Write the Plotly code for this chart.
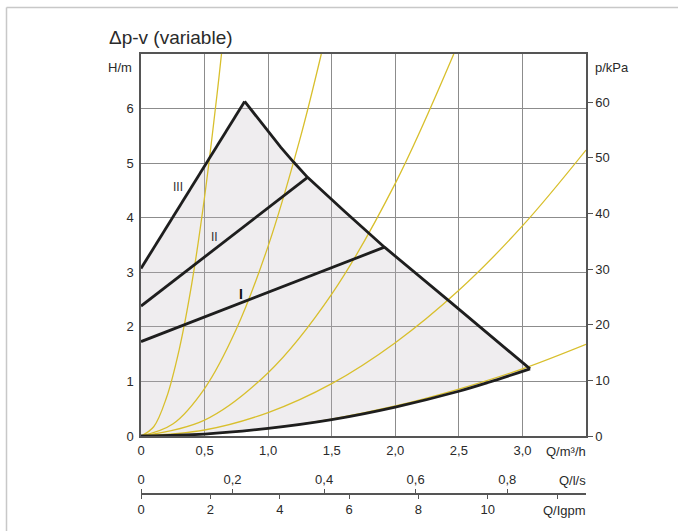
import plotly.graph_objects as go

# ---------------- data ----------------
# bottom axis: flow Q in m3/h
q_ticks = [0, 0.5, 1.0, 1.5, 2.0, 2.5, 3.0]
q_ticklabels = ["0", "0,5", "1,0", "1,5", "2,0", "2,5", "3,0"]
# left axis: head H in m
h_ticks = [0, 1, 2, 3, 4, 5, 6]
h_ticklabels = ["0", "1", "2", "3", "4", "5", "6"]
# right axis: pressure in kPa
kpa_ticks = [0, 10, 20, 30, 40, 50, 60]
kpa_ticklabels = ["0", "10", "20", "30", "40", "50", "60"]
# secondary flow scales
ls_ticks = [0, 0.2, 0.4, 0.6, 0.8]
ls_ticklabels = ["0", "0,2", "0,4", "0,6", "0,8"]
igpm_ticks = [0, 2, 4, 6, 8, 10, 12]
igpm_ticklabels = ["0", "2", "4", "6", "8", "10", ""]

# control lines (black)
line_III_q = [0.0, 0.815]
line_III_h = [3.07, 6.13]
line_II_q = [0.0, 1.31]
line_II_h = [2.38, 4.74]
line_I_q = [0.0, 1.915]
line_I_h = [1.73, 3.46]
# maximum (descending) curve
max_q = [0.815, 1.0, 1.1, 1.2, 1.31, 1.6, 1.915, 2.42, 3.06]
max_h = [6.13, 5.58, 5.29, 5.02, 4.74, 4.12, 3.46, 2.48, 1.23]
# minimum curve (bottom)
min_q = [0.0, 0.5, 1.0, 1.5, 2.0, 2.5, 2.73, 3.06]
min_h = [0.0, 0.035, 0.14, 0.30, 0.53, 0.82, 0.98, 1.23]

# system curves (yellow)
sys1_q = [0.0, 0.1, 0.2, 0.3, 0.4, 0.5, 0.6, 0.633]
sys1_h = [0.0, 0.17, 0.70, 1.58, 2.80, 4.38, 6.30, 7.0]
sys2_q = [0.0, 0.25, 0.5, 0.75, 1.0, 1.25, 1.418]
sys2_h = [0.0, 0.22, 0.87, 1.96, 3.48, 5.44, 7.0]
sys3_q = [0.0, 0.5, 1.0, 1.5, 2.0, 2.46]
sys3_h = [0.0, 0.29, 1.16, 2.60, 4.63, 7.0]
sys4_q = [0.0, 0.5, 1.0, 1.5, 2.0, 2.5, 3.0, 3.5]
sys4_h = [0.0, 0.11, 0.43, 0.96, 1.71, 2.67, 3.85, 5.24]
sys5_q = [0.0, 0.5, 1.0, 1.5, 2.0, 2.5, 3.0, 3.5]
sys5_h = [0.0, 0.034, 0.137, 0.31, 0.55, 0.86, 1.23, 1.68]

# curve labels
curve_names = ["III", "II", "<b>I</b>"]
curve_label_q = [0.29, 0.58, 0.79]
curve_label_h = [4.57, 3.64, 2.61]

# axis ranges
Q_MAX = 3.5
H_MAX = 7.0
KPA_MAX = 68.67
LS_MAX = 0.9722
IGPM_MAX = 12.83

# ---------------- layout geometry (pixels) ----------------
W, HGT = 678, 531
PL, PR, PT, PBOT = 141, 586, 54, 436    # plot frame
PAPER_B = 520                            # bottom of paper area
PAPER_H = PAPER_B - PT
PAPER_W = PR - PL
AUX_Y = 494                              # secondary axis line


def px(x):
    return (x - PL) / PAPER_W


def py(y):
    return (PAPER_B - y) / PAPER_H


FONT = "Liberation Sans, Arial, sans-serif"
TXT = "#2a2a2a"
YEL = "#d8bf2c"
BLK = "#1e1e1e"
GRID = "#8c8c8c"
AX = "#555555"

fig = go.Figure()

# grey operating area
fill_q = [0.0] + line_III_q + max_q[1:] + min_q[::-1]
fill_h = [0.0] + line_III_h + max_h[1:] + min_h[::-1]
fig.add_trace(go.Scatter(x=fill_q, y=fill_h, mode="lines", fill="toself",
                         fillcolor="rgba(190,184,190,0.25)",
                         line=dict(width=0), hoverinfo="skip", showlegend=False))

for sq, sh in [(sys1_q, sys1_h), (sys2_q, sys2_h), (sys3_q, sys3_h),
               (sys4_q, sys4_h), (sys5_q, sys5_h)]:
    fig.add_trace(go.Scatter(x=sq, y=sh, mode="lines",
                             line=dict(color=YEL, width=1.3, shape="spline"),
                             hoverinfo="skip", showlegend=False))

for lq, lh, shp in [(line_III_q, line_III_h, "linear"), (line_II_q, line_II_h, "linear"),
                    (line_I_q, line_I_h, "linear"), (max_q, max_h, "linear"),
                    (min_q, min_h, "spline")]:
    fig.add_trace(go.Scatter(x=lq, y=lh, mode="lines",
                             line=dict(color=BLK, width=2.8, shape=shp),
                             hoverinfo="skip", showlegend=False))

# dummy traces to activate extra axes
fig.add_trace(go.Scatter(x=[None], y=[None], xaxis="x", yaxis="y2", showlegend=False, hoverinfo="skip"))
fig.add_trace(go.Scatter(x=[None], y=[None], xaxis="x2", yaxis="y", showlegend=False, hoverinfo="skip"))
fig.add_trace(go.Scatter(x=[None], y=[None], xaxis="x3", yaxis="y", showlegend=False, hoverinfo="skip"))

tickfont = dict(family=FONT, size=13, color=TXT)

fig.update_layout(
    width=W, height=HGT, autosize=False,
    margin=dict(l=PL, r=W - PR, t=PT, b=HGT - PAPER_B, pad=0, autoexpand=False),
    paper_bgcolor="white", plot_bgcolor="white",
    font=dict(family=FONT, size=13, color=TXT),
    xaxis=dict(range=[0, Q_MAX], domain=[0, 1], anchor="y",
               tickvals=q_ticks, ticktext=q_ticklabels, tickfont=tickfont,
               showgrid=True, gridcolor=GRID, gridwidth=1.2,
               showline=True, linecolor=AX, linewidth=1.5, mirror=True,
               ticks="outside", ticklen=2, tickcolor="rgba(0,0,0,0)",
               zeroline=False, fixedrange=True),
    yaxis=dict(range=[0, H_MAX], domain=[py(PBOT), 1], anchor="x",
               tickvals=h_ticks, ticktext=h_ticklabels, tickfont=tickfont,
               showgrid=True, gridcolor=GRID, gridwidth=1.2,
               showline=True, linecolor=AX, linewidth=1.5, mirror=True,
               ticks="outside", ticklen=3, tickcolor="rgba(0,0,0,0)",
               zeroline=False, fixedrange=True),
    yaxis2=dict(range=[0, KPA_MAX], overlaying="y", side="right", anchor="x",
                tickvals=kpa_ticks, ticktext=kpa_ticklabels, tickfont=tickfont,
                showgrid=False, showline=True, linecolor=AX, linewidth=1.5,
                ticks="outside", ticklen=5, tickcolor=AX, tickwidth=1.2,
                zeroline=False, fixedrange=True),
    xaxis2=dict(range=[0, LS_MAX], overlaying="x", side="top", anchor="free",
                position=py(AUX_Y), tickvals=ls_ticks, ticktext=ls_ticklabels,
                tickfont=tickfont, showgrid=False, showline=True, linecolor=AX,
                linewidth=1.5, ticks="outside", ticklen=4, tickcolor=AX, tickwidth=1.2,
                zeroline=False, fixedrange=True),
    xaxis3=dict(range=[0, IGPM_MAX], overlaying="x", side="bottom", anchor="free",
                position=py(AUX_Y), tickvals=igpm_ticks, ticktext=igpm_ticklabels,
                tickfont=tickfont, showgrid=False, showline=True, linecolor=AX,
                linewidth=1.5, ticks="outside", ticklen=4, tickcolor=AX, tickwidth=1.2,
                zeroline=False, fixedrange=True),
    showlegend=False,
)

ann = [
    dict(text="Δp-v (variable)", x=px(107), y=py(37), xanchor="left", yanchor="middle",
         font=dict(family=FONT, size=19, color=TXT)),
    dict(text="H/m", x=px(134), y=py(67), xanchor="right", yanchor="middle"),
    dict(text="p/kPa", x=px(593), y=py(67), xanchor="left", yanchor="middle"),
    dict(text="Q/m³/h", x=px(588), y=py(451), xanchor="right", yanchor="middle"),
    dict(text="Q/l/s", x=px(588), y=py(480), xanchor="right", yanchor="middle"),
    dict(text="Q/Igpm", x=px(588), y=py(510), xanchor="right", yanchor="middle"),
]
for a in ann:
    a.update(xref="paper", yref="paper", showarrow=False)
    a.setdefault("font", dict(family=FONT, size=13, color=TXT))
    fig.add_annotation(**a)

for name, cq, ch in zip(curve_names, curve_label_q, curve_label_h):
    big = name.startswith("<b>")
    fig.add_annotation(text=name, x=cq, y=ch, xref="x", yref="y", showarrow=False,
                       font=dict(family=FONT, size=14 if big else 12,
                                 color="#111" if big else "#333"))

# outer thin border of the figure card (left and top edges only)
fig.add_shape(type="line", xref="paper", yref="paper",
              x0=px(6.5), y0=py(531), x1=px(6.5), y1=py(7.5),
              line=dict(color="#c8c8c8", width=1.5), layer="below")
fig.add_shape(type="line", xref="paper", yref="paper",
              x0=px(6.5), y0=py(7.5), x1=px(678), y1=py(7.5),
              line=dict(color="#c8c8c8", width=1.5), layer="below")

fig.write_html("out.html", config={"displayModeBar": False})
